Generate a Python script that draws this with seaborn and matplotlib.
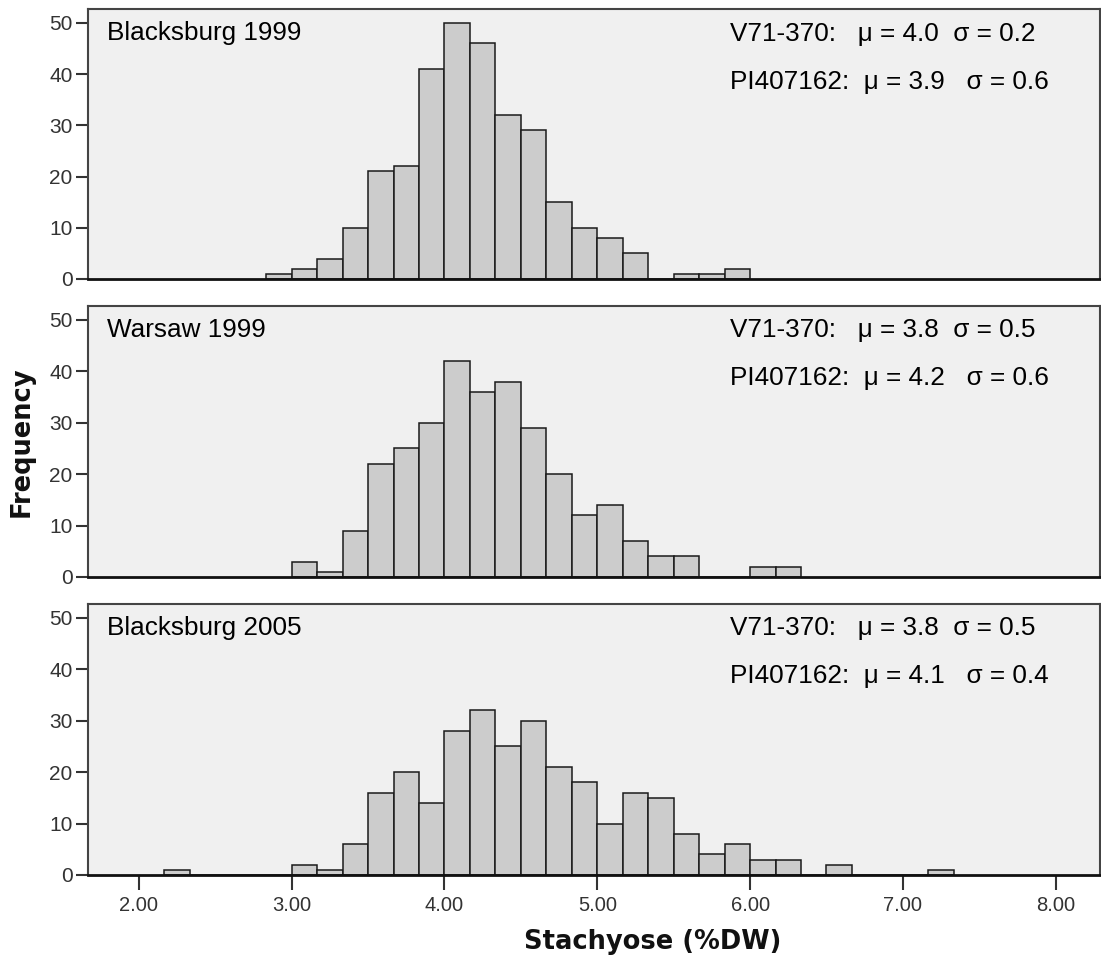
import numpy as np
import pandas as pd
import matplotlib
matplotlib.use("Agg")
import matplotlib.pyplot as plt
import seaborn as sns

# ---- data ----
bin_width = 1.0 / 6.0
panel_titles = ["Blacksburg 1999", "Warsaw 1999", "Blacksburg 2005"]
first_bin_left = [17 / 6, 3.0, 13 / 6]
counts_bb1999 = [1, 2, 4, 10, 21, 22, 41, 50, 46, 32, 29, 15, 10, 8, 5, 0, 1, 1, 2]
counts_wa1999 = [3, 1, 9, 22, 25, 30, 42, 36, 38, 29, 20, 12, 14, 7, 4, 4, 0, 0, 2, 2]
counts_bb2005 = [1, 0, 0, 0, 0,
                 2, 1, 6, 16, 20, 14, 28, 32, 25, 30, 21, 18, 10, 16, 15, 8, 4, 6, 3, 3,
                 0, 2, 0, 0, 0, 1]
stats_line1 = ["V71-370:   \u03bc = 4.0  \u03c3 = 0.2",
               "V71-370:   \u03bc = 3.8  \u03c3 = 0.5",
               "V71-370:   \u03bc = 3.8  \u03c3 = 0.5"]
stats_line2 = ["PI407162:  \u03bc = 3.9   \u03c3 = 0.6",
               "PI407162:  \u03bc = 4.2   \u03c3 = 0.6",
               "PI407162:  \u03bc = 4.1   \u03c3 = 0.4"]
x_ticks = [2, 3, 4, 5, 6, 7, 8]
x_ticklabels = ["2.00", "3.00", "4.00", "5.00", "6.00", "7.00", "8.00"]
y_ticks = [0, 10, 20, 30, 40, 50]
x_label = "Stachyose (%DW)"
y_label = "Frequency"

all_counts = [counts_bb1999, counts_wa1999, counts_bb2005]

sns.set_theme(style="white")
plt.rcParams["font.family"] = ["Liberation Sans", "DejaVu Sans"]

W, H = 1101, 961
fig = plt.figure(figsize=(W / 100, H / 100), dpi=100)

left = 88 / W
width = (1100 - 88) / W
panel_tops = [9, 306, 604]
panel_bottoms = [279, 577, 875]

for i in range(3):
    top, bot = panel_tops[i], panel_bottoms[i]
    ax = fig.add_axes([left, 1 - bot / H, width, (bot - top) / H])
    counts = all_counts[i]
    n = len(counts)
    start = first_bin_left[i]
    centers = start + bin_width * (np.arange(n) + 0.5)
    df = pd.DataFrame({"x": centers, "w": counts})
    sns.histplot(data=df, x="x", weights="w", binwidth=bin_width,
                 binrange=(start, start + n * bin_width - 1e-9), ax=ax,
                 color="#cccccc", edgecolor="#1a1a1a", linewidth=1.1,
                 alpha=1.0, element="bars")
    ax.set_facecolor("#f0f0f0")
    ax.set_xlim(1.667, 8.29)
    ax.set_ylim(0, 52.7)
    ax.set_yticks(y_ticks)
    ax.set_xlabel("")
    ax.set_ylabel("")
    ax.tick_params(axis="y", left=True, length=9, width=1.5, color="#333333",
                   labelsize=15, labelcolor="#333333", pad=2)
    if i == 2:
        ax.set_xticks(x_ticks)
        ax.set_xticklabels(x_ticklabels)
        ax.tick_params(axis="x", bottom=True, length=11, width=1.5, color="#333333",
                       labelsize=14.5, labelcolor="#333333", pad=4)
    else:
        ax.set_xticks([])
    for side in ["top", "right", "left"]:
        ax.spines[side].set_color("#444444")
        ax.spines[side].set_linewidth(1.5)
        ax.spines[side].set_visible(True)
    ax.spines["bottom"].set_color("#111111")
    ax.spines["bottom"].set_linewidth(2)
    ax.spines["bottom"].set_visible(True)

    ph = bot - top
    ax.text((107 - 88) / (1012), 1 - 24 / ph, panel_titles[i], transform=ax.transAxes,
            ha="left", va="center", fontsize=18.8, color="black")
    ax.text((730 - 88) / 1012, 1 - 24.5 / ph, stats_line1[i], transform=ax.transAxes,
            ha="left", va="center", fontsize=18.8, color="black")
    ax.text((730 - 88) / 1012, 1 - 72.5 / ph, stats_line2[i], transform=ax.transAxes,
            ha="left", va="center", fontsize=18.8, color="black")

fig.text(653 / W, 1 - 942 / H, x_label, ha="center", va="center",
         fontsize=18.5, fontweight="bold", family=["DejaVu Sans"], color="#111111")
fig.text(22 / W, 1 - 442 / H, y_label, ha="center", va="center", rotation=90,
         fontsize=18.5, fontweight="bold", family=["DejaVu Sans"], color="#111111")

fig.savefig("out.png", dpi=100)
